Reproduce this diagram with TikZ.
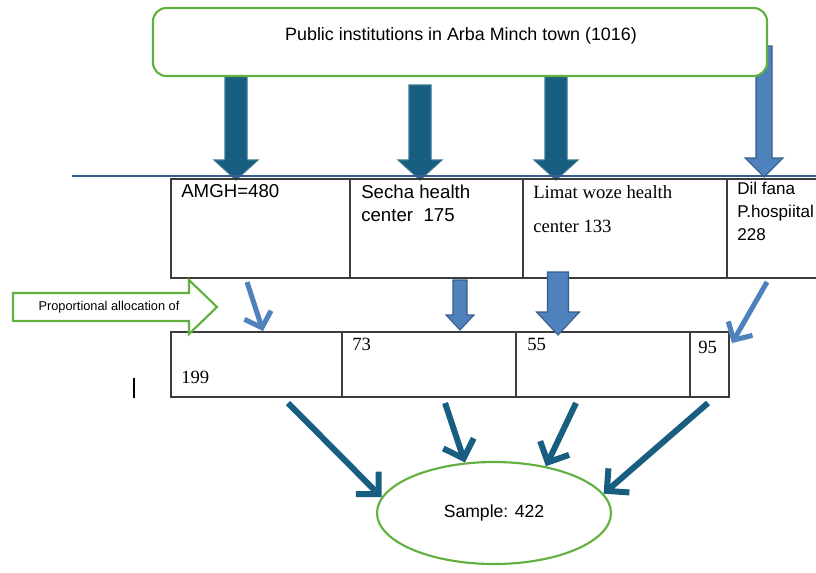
\documentclass[tikz,border=0pt]{standalone}
\usepackage{fontspec}
\setmainfont{Liberation Serif}
\setsansfont{Liberation Sans}
\usetikzlibrary{arrows.meta,shapes.geometric}
\definecolor{deepblue}{RGB}{24,94,128}
\definecolor{softblue}{RGB}{79,129,189}
\definecolor{softedge}{RGB}{56,93,138}
\definecolor{leafgreen}{RGB}{98,176,64}
\definecolor{rulegray}{RGB}{60,60,60}
\newcommand{\bdarrow}[6]{({#1-#3},#2) -- ({#1+#3},#2) -- ({#1+#3},#4) -- ({#1+#5},#4) -- (#1,#6) -- ({#1-#5},#4) -- ({#1-#3},#4) -- cycle}

\begin{document}
\begin{tikzpicture}[x=0.75pt,y=-0.75pt,
    cell/.style={draw=rulegray,line width=1pt,anchor=north west,inner sep=0pt,outer sep=0pt,minimum height=74.25pt},
    lowcell/.style={cell,minimum height=48.75pt},
    sanstxt/.style={font=\sffamily\fontsize{14}{16}\selectfont,anchor=base west,inner sep=0pt},
    seriftxt/.style={font=\fontsize{14}{16}\selectfont,anchor=base west,inner sep=0pt},
    darkblock/.style={fill=deepblue,draw=deepblue!85!white,line width=0.8pt},
    lightblock/.style={fill=softblue,draw=softedge,line width=0.8pt},
    lightshaft/.style={softblue,line width=3.8pt,-{Straight Barb[length=10pt,width=21pt]}},
    darkshaft/.style={deepblue,line width=4.5pt,-{Straight Barb[length=12pt,width=24pt]}}]
                \clip (0,0) rectangle (816,572);
                \draw[darkblock] \bdarrow{236}{70}{11}{160}{22}{180};
                \draw[darkblock] \bdarrow{420}{85}{11}{160}{22}{180};
                \draw[darkblock] \bdarrow{556}{70}{11}{160}{22}{180};
                \draw[lightblock] \bdarrow{764}{46}{8}{158}{19}{177};
                \node[draw=leafgreen,line width=1.6pt,fill=white,rounded corners=10pt,
                      minimum width=460.5pt,minimum height=51pt,inner sep=0pt] (pub) at (460,42) {};
                \node[font=\sffamily\fontsize{13.4}{15}\selectfont,inner sep=0pt] (pubtxt) at (461,36)
                    {Public institutions in Arba Minch town (1016)};
                \draw[softedge,line width=1pt] (72,176) -- (816,176);

                \node[cell,minimum width=134.25pt] (amgh) at (171,179) {};
                \node[cell,minimum width=129.75pt] (secha) at (amgh.north east) {};
                \node[cell,minimum width=153pt] (limat) at (secha.north east) {};
                \node[cell,minimum width=84.75pt] (dilfana) at (limat.north east) {};
                \node[sanstxt] (amghtxt) at (181,197) {AMGH=480};
                \node[sanstxt] (sechatxt) at (361,198) {Secha health};
                \node[sanstxt] (sechanum) at (361,221) {center\ \ 175};
                \node[seriftxt] (limattxt) at (533,198) {Limat woze health};
                \node[seriftxt] (limatnum) at (533,232) {center 133};
                \node[sanstxt,font=\sffamily\fontsize{12.8}{15}\selectfont] (diltxt) at (737,194) {Dil fana};
                \node[sanstxt,font=\sffamily\fontsize{12.8}{15}\selectfont] (dilhosp) at (737,217) {P.hospiital};
                \node[sanstxt,font=\sffamily\fontsize{12.8}{15}\selectfont] (dilnum) at (737,240) {228};

                \node[lowcell,minimum width=128.25pt] (n199) at (171,332) {};
                \node[lowcell,minimum width=130.5pt] (n73) at (n199.north east) {};
                \node[lowcell,minimum width=130.5pt] (n55) at (n73.north east) {};
                \node[lowcell,minimum width=29.25pt] (n95) at (n55.north east) {};
                \node[seriftxt] (n199txt) at (181,383) {199};
                \node[seriftxt] (n73txt) at (352,350) {73};
                \node[seriftxt] (n55txt) at (527,350) {55};
                \node[seriftxt] (n95txt) at (698,353) {95};

                \draw[leafgreen,line width=1.6pt,fill=white]
                    (13,293) -- (189,293) -- (189,280) -- (217,307) -- (189,334) -- (189,321) -- (13,321) -- cycle;
                \node[font=\sffamily\fontsize{9.6}{11}\selectfont,inner sep=0pt] (prop) at (109,307)
                    {Proportional allocation of};

                \coordinate (a1) at (247,282);
                \coordinate (a2) at (263,331);
                \coordinate (d1) at (767,282);
                \coordinate (d2) at (732,343);
                \draw[lightshaft] (a1) -- (a2);
                \draw[lightshaft] (d1) -- (d2);
                \draw[lightblock] \bdarrow{460}{280}{7}{315}{14}{330};
                \draw[lightblock] \bdarrow{558}{272}{10.5}{312}{21.5}{335};

                \draw[line width=0.9pt] (134,378) -- (134,398);

                \node[ellipse,draw=leafgreen,line width=1.6pt,minimum width=175.5pt,minimum height=76.5pt,
                      inner sep=0pt,font=\sffamily\fontsize{13.2}{15}\selectfont] (smp) at (494,513) {Sample: 422};
                \coordinate (b1) at (288,403);
                \coordinate (b2) at (445,403);
                \coordinate (b3) at (576,403);
                \coordinate (b4) at (708,403);
                \draw[darkshaft] (b1) -- (smp.172);
                \draw[darkshaft] (b2) -- (smp.120);
                \draw[darkshaft] (b3) -- (smp.42);
                \draw[darkshaft] (b4) -- (smp.10);
\end{tikzpicture}
\end{document}
